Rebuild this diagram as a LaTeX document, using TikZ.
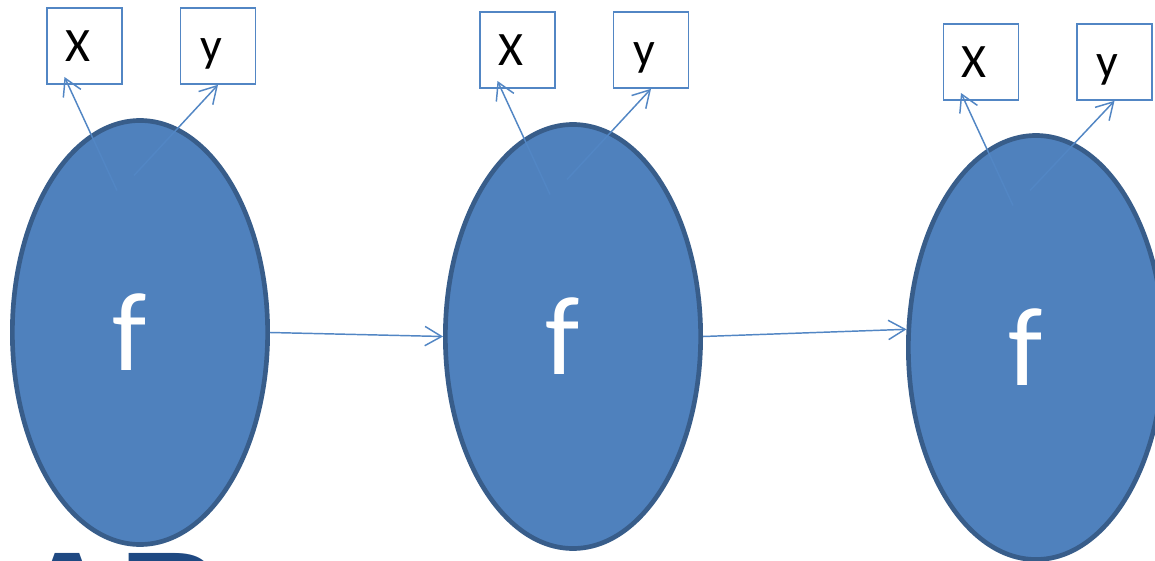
\documentclass[tikz,border=0pt]{standalone}
\usepackage{fontspec}
\setmainfont{Carlito}
\newfontfamily\logofont{Liberation Sans}
\usetikzlibrary{arrows.meta,shapes.geometric}
\definecolor{ovalfill}{RGB}{79,129,189}
\definecolor{ovaledge}{RGB}{56,93,138}
\definecolor{linkblue}{RGB}{82,134,196}
\definecolor{logoblue}{RGB}{31,73,130}
\begin{document}
\begin{tikzpicture}[x=0.75pt,y=-0.75pt,
  oval/.style={ellipse, draw=ovaledge, line width=3.5pt, fill=ovalfill,
    minimum width=191.5pt, minimum height=318pt, inner sep=0pt},
  flabel/.style={text=white, font=\fontsize{84}{84}\selectfont, xshift=-7.5pt},
  outbox/.style={draw=linkblue, line width=1.2pt, fill=white,
    minimum width=56.5pt, minimum height=57pt, inner sep=0pt},
  boxtext/.style={font=\fontsize{36}{36}\selectfont, text height=23pt,
    text depth=0pt, inner sep=0pt, xshift=-5pt},
  link/.style={draw=linkblue, line width=1.1pt,
    -{Straight Barb[length=12.5pt,width=14.5pt]}}
]
\path[use as bounding box, clip] (0,0) rectangle (1155,560);
\fill[white] (0,0) rectangle (1155,560);

% partial logo lettering along the bottom edge
\node[anchor=base west, inner sep=0pt, text=logoblue,
      font=\logofont\bfseries\fontsize{108}{108}\selectfont] (logo) at (15.5,652) {AB};

% the three f stages
\node[oval, label={[flabel]center:f}] (e1) at (140,332.5) {};
\node[oval, label={[flabel]center:f}] (e2) at (573,336.5) {};
\node[oval, label={[flabel]center:f}] (e3) at (1036,347.5) {};

% output boxes above each stage
\node[outbox, label={[boxtext]center:X}] (x1) at (84.5,46) {};
\node[outbox, label={[boxtext]center:y}] (y1) at (218,46) {};
\node[outbox, label={[boxtext]center:X}] (x2) at (517.5,50) {};
\node[outbox, label={[boxtext]center:y}] (y2) at (651,50) {};
\node[outbox, label={[boxtext]center:X}] (x3) at (981,62) {};
\node[outbox, label={[boxtext]center:y}] (y3) at (1114.5,62) {};

% start points inside each stage and tips inside the X boxes
\foreach \i in {1,2,3}{
  \coordinate (sx\i) at ([shift={(-23,-142)}]e\i.center);
  \coordinate (sy\i) at ([shift={(-6,-157)}]e\i.center);
  \coordinate (tx\i) at ([shift={(-20,31)}]x\i.center);
}

% outputs
\foreach \i in {1,2,3}{
  \draw[link] (sx\i) -- (tx\i);
  \draw[link] (sy\i) -- (y\i.south);
}

% chain between stages
\draw[link] (e1.east) -- (e2.west);
\draw[link] (e2.east) -- (e3.172.3);
\end{tikzpicture}
\end{document}
